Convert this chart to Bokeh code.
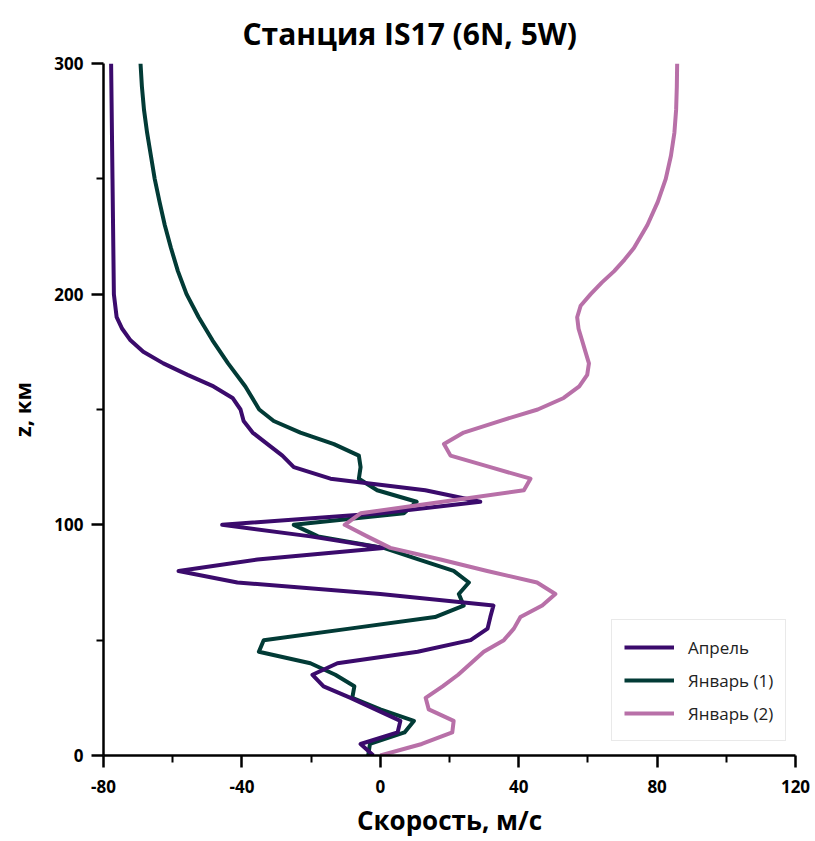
from bokeh.plotting import figure
from bokeh.models import FixedTicker, Legend, LegendItem, PrintfTickFormatter
from bokeh.embed import file_html
from bokeh.resources import INLINE

# ---- data (speed in m/s, altitude z in km) ----
april_z = [0, 5, 10, 15, 25, 30, 35, 40, 45, 50, 55, 60, 65, 70, 75, 80, 85, 90, 95, 100,
           105, 110, 115, 120, 125, 130, 135, 140, 145, 150, 155, 160, 165, 170, 175, 180,
           185, 190, 200, 250, 300]
april_v = [-2.0, -5.7, 5.0, 5.8, -8.6, -16.4, -19.6, -12.4, 10.8, 26.1, 31.0, 31.8, 32.7, 0.0,
           -41.3, -58.3, -35.5, 0.9, -20.2, -45.7, 0.0, 28.9, 13.0, -14.4, -25.0, -28.3, -32.6,
           -36.9, -39.5, -40.4, -42.7, -48.2, -55.7, -62.7, -68.5, -72.2, -74.6, -76.2, -77.0,
           -77.4, -77.8]

jan1_z = [0, 5, 10, 15, 20, 25, 30, 35, 40, 45, 50, 55, 60, 65, 70, 75, 80, 85, 90, 95, 100,
          105, 110, 115, 120, 125, 130, 135, 140, 145, 150, 160, 170, 180, 190, 200, 210, 220,
          230, 240, 250, 260, 270, 280, 290, 300]
jan1_v = [-3.5, -3.0, 7.0, 9.7, 0.0, -8.1, -7.5, -13.0, -20.2, -35.1, -33.7, -8.9, 15.8, 24.1,
          22.7, 25.6, 21.2, 11.0, 1.0, -18.0, -25.0, 6.8, 10.5, -0.9, -6.2, -5.7, -6.2, -13.4,
          -23.1, -30.8, -35.0, -39.0, -44.0, -48.5, -52.5, -56.0, -58.5, -60.5, -62.3, -63.8,
          -65.2, -66.3, -67.4, -68.3, -68.9, -69.3]

jan2_z = [0, 5, 10, 15, 20, 25, 30, 35, 45, 50, 55, 60, 65, 70, 75, 80, 85, 90, 95, 100, 105,
          110, 115, 120, 125, 130, 135, 140, 145, 150, 155, 160, 165, 170, 175, 180, 185, 190,
          195, 200, 205, 210, 215, 220, 230, 240, 250, 260, 270, 280, 290, 300]
jan2_v = [0.0, 12.0, 20.8, 21.2, 14.0, 13.1, 18.0, 22.5, 29.9, 35.7, 38.6, 40.5, 46.8, 50.6,
          45.3, 30.9, 17.4, 2.9, -3.8, -10.3, -5.7, 18.0, 41.5, 43.4, 31.8, 20.3, 18.4, 24.1,
          34.5, 45.5, 53.0, 57.5, 59.8, 60.3, 59.3, 58.3, 57.3, 56.9, 57.9, 60.8, 64.0, 67.6,
          70.6, 73.3, 77.2, 80.2, 82.5, 84.0, 85.0, 85.5, 85.7, 85.8]

series_names = ["Апрель", "Январь (1)", "Январь (2)"]
x_ticks = [-80, -40, 0, 40, 80, 120]
x_minor = [-60, -20, 20, 60, 100]
y_ticks = [0, 100, 200, 300]
y_minor = [50, 150, 250]

FONT = "Open Sans"
C_APR = "#3b0b6c"
C_J1 = "#023b36"
C_J2 = "#b870a8"

p = figure(width=815, height=841, x_range=(-80, 120), y_range=(0, 300),
           output_backend="svg", toolbar_location=None,
           min_border_left=103, min_border_right=20, min_border_top=63, min_border_bottom=86)
p.outline_line_color = None
p.grid.visible = False
p.background_fill_color = "white"
p.border_fill_color = "white"

p.title.text = "Станция IS17 (6N, 5W)"
p.title.align = "left"
p.title.offset = 139
p.title.standoff = 20
p.title.text_font = FONT
p.title.text_font_size = "30px"
p.title.text_font_style = "bold"
p.title.text_color = "black"

p.xaxis.ticker = FixedTicker(ticks=x_ticks, minor_ticks=x_minor)
p.yaxis.ticker = FixedTicker(ticks=y_ticks, minor_ticks=y_minor)
p.xaxis.formatter = PrintfTickFormatter(format="%d")
p.yaxis.formatter = PrintfTickFormatter(format="%d")

for ax in (p.xaxis[0], p.yaxis[0]):
    ax.axis_line_width = 2.5
    ax.axis_line_color = "black"
    ax.major_tick_line_width = 2.5
    ax.minor_tick_line_width = 2
    ax.major_tick_line_color = "black"
    ax.minor_tick_line_color = "black"
    ax.major_tick_in = 0
    ax.major_tick_out = 12
    ax.minor_tick_in = 0
    ax.minor_tick_out = 7
    ax.major_label_text_font = FONT
    ax.major_label_text_font_style = "bold"
    ax.major_label_text_font_size = "17px"
    ax.major_label_text_color = "black"
    ax.axis_label_text_font = FONT
    ax.axis_label_text_font_style = "bold"
    ax.axis_label_text_color = "black"

p.xaxis.axis_label = "Скорость, м/с"
p.xaxis.axis_label_text_font_size = "26px"
p.xaxis.major_label_standoff = 12
p.xaxis.axis_label_standoff = 6
p.yaxis.axis_label = "z, км"
p.yaxis.axis_label_text_font_size = "22px"
p.yaxis.major_label_standoff = 8
p.yaxis.axis_label_standoff = 14

r_j1 = p.line(jan1_v, jan1_z, line_color=C_J1, line_width=4, line_join="round")
r_apr = p.line(april_v, april_z, line_color=C_APR, line_width=4, line_join="round")
r_j2 = p.line(jan2_v, jan2_z, line_color=C_J2, line_width=4, line_join="round")

legend = Legend(items=[LegendItem(label=series_names[0], renderers=[r_apr]),
                       LegendItem(label=series_names[1], renderers=[r_j1]),
                       LegendItem(label=series_names[2], renderers=[r_j2])],
                location=(508, 14))
legend.label_text_font = FONT
legend.label_text_font_size = "17px"
legend.label_text_color = "#222222"
legend.glyph_width = 50
legend.glyph_height = 30
legend.label_height = 30
legend.label_standoff = 14
legend.spacing = 3
legend.padding = 12
legend.margin = 0
legend.border_line_color = "#d4d4d4"
legend.border_line_width = 1.5
legend.background_fill_color = "white"
legend.background_fill_alpha = 1.0
p.add_layout(legend, "center")

open("out.html", "w").write(file_html(p, INLINE))
